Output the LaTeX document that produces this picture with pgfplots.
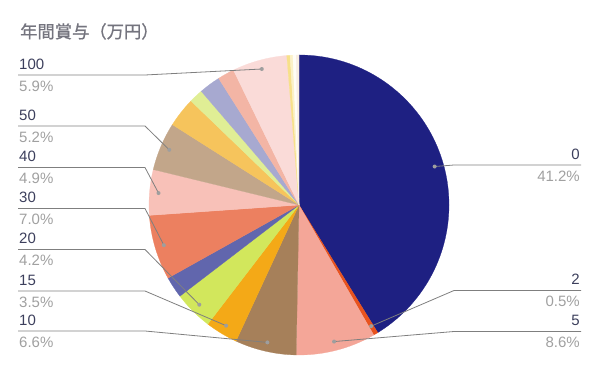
\documentclass[border=0pt]{standalone}
\usepackage{fontspec}
\setmainfont{Liberation Sans}
\newfontfamily\cjk[FakeBold=0.9]{Noto Sans CJK JP}
\usepackage{pgfplots}
\usepackage{pgfplotstable}
\pgfplotsset{compat=1.18}

\definecolor{s0}{HTML}{1E2082}
\definecolor{s1}{HTML}{E8531F}
\definecolor{s2}{HTML}{F4A698}
\definecolor{s3}{HTML}{A6805A}
\definecolor{s4}{HTML}{F4A917}
\definecolor{s5}{HTML}{D2E75C}
\definecolor{s6}{HTML}{6166AD}
\definecolor{s7}{HTML}{EC8060}
\definecolor{s8}{HTML}{F8C1B8}
\definecolor{s9}{HTML}{C2A68A}
\definecolor{s10}{HTML}{F6C45C}
\definecolor{s11}{HTML}{E0EE95}
\definecolor{s12}{HTML}{A7A9D0}
\definecolor{s13}{HTML}{F3B5A5}
\definecolor{s14}{HTML}{FADBD8}
\definecolor{s15}{HTML}{F7E08A}
\definecolor{s16}{HTML}{FBF1C8}
\definecolor{s17}{HTML}{FFFDF6}
\definecolor{s18}{HTML}{F8EDE2}
\definecolor{namecol}{HTML}{3C3F5C}
\definecolor{pctcol}{HTML}{A0A0A0}
\definecolor{titlecol}{HTML}{74747E}
\definecolor{leadcol}{HTML}{7F7F7F}
\definecolor{dotcol}{HTML}{9E9E9E}

\pgfplotstableread{
name value col ly side
0 41.2 s0 165 r
2 0.5 s1 290.5 r
5 8.6 s2 331.5 r
10 6.6 s3 331 l
15 3.5 s4 291 l
20 4.2 s5 249.5 l
x 2.3 s6 0 n
30 7.0 s7 208.5 l
40 4.9 s8 167.5 l
50 5.2 s9 126 l
x 3.2 s10 0 n
x 1.5 s11 0 n
x 2.3 s12 0 n
x 1.8 s13 0 n
100 5.9 s14 75 l
x 0.35 s15 0 n
x 0.3 s16 0 n
x 0.35 s17 0 n
x 0.3 s18 0 n
}\pie

\def\sideR{r}
\def\sideL{l}

\begin{document}
\begin{tikzpicture}
\begin{axis}[
  scale only axis, width=600pt, height=371pt,
  xmin=0, xmax=600, ymin=0, ymax=371, y dir=reverse,
  hide axis, clip=false,
]
\pgfplotsextra{
  \path (axis cs:0,0) rectangle (axis cs:600,371);
  \pgfplotstablegetrowsof{\pie}\pgfmathtruncatemacro\last{\pgfplotsretval-1}
  % slices
  \xdef\cum{0}
  \foreach \i in {0,...,\last}{
    \pgfplotstablegetelem{\i}{value}\of\pie \edef\v{\pgfplotsretval}
    \pgfplotstablegetelem{\i}{col}\of\pie \edef\c{\pgfplotsretval}
    \pgfmathsetmacro\a{90-3.6*\cum}
    \pgfmathsetmacro\newcum{\cum+\v}
    \pgfmathsetmacro\b{90-3.6*\newcum}
    \filldraw[fill=\c, draw=\c, line width=0.25pt] (axis cs:299,205) -- ++(\a:150pt) arc[start angle=\a, end angle=\b, radius=150pt] -- cycle;
    \xdef\cum{\newcum}
  }
  % labels
  \xdef\cum{0}
  \foreach \i in {0,...,\last}{
    \pgfplotstablegetelem{\i}{value}\of\pie \edef\v{\pgfplotsretval}
    \pgfplotstablegetelem{\i}{name}\of\pie \edef\nm{\pgfplotsretval}
    \pgfplotstablegetelem{\i}{ly}\of\pie \edef\ly{\pgfplotsretval}
    \pgfplotstablegetelem{\i}{side}\of\pie \edef\sd{\pgfplotsretval}
    \pgfmathsetmacro\newcum{\cum+\v}
    \pgfmathsetmacro\m{90-1.8*(\cum+\newcum)}
    \pgfmathsetmacro\lyn{\ly-5.5}
    \pgfmathsetmacro\lyp{\ly+16.5}
    \ifx\sd\sideR
      \draw[leadcol, line width=0.8pt] (axis cs:299,205) ++(\m:141pt) -- (axis cs:454,\ly) -- (axis cs:581,\ly);
      \fill[dotcol] (axis cs:299,205) ++(\m:141pt) circle[radius=2pt];
      \node[anchor=base east, inner sep=0pt, text=namecol, font=\fontsize{15}{18}\selectfont] at (axis cs:580,\lyn) {\nm};
      \node[anchor=base east, inner sep=0pt, text=pctcol, font=\fontsize{15}{18}\selectfont] at (axis cs:580,\lyp) {\v\%};
    \fi
    \ifx\sd\sideL
      \draw[leadcol, line width=0.8pt] (axis cs:299,205) ++(\m:141pt) -- (axis cs:145,\ly) -- (axis cs:18,\ly);
      \fill[dotcol] (axis cs:299,205) ++(\m:141pt) circle[radius=2pt];
      \node[anchor=base west, inner sep=0pt, text=namecol, font=\fontsize{15}{18}\selectfont] at (axis cs:19,\lyn) {\nm};
      \node[anchor=base west, inner sep=0pt, text=pctcol, font=\fontsize{15}{18}\selectfont] at (axis cs:19,\lyp) {\v\%};
    \fi
    \xdef\cum{\newcum}
  }
  \node[anchor=base west, inner sep=0pt, text=titlecol, font=\cjk\fontsize{17.3}{20}\selectfont] at (axis cs:20,38) {年間賞与（万円）};
}
\end{axis}
\end{tikzpicture}
\end{document}
